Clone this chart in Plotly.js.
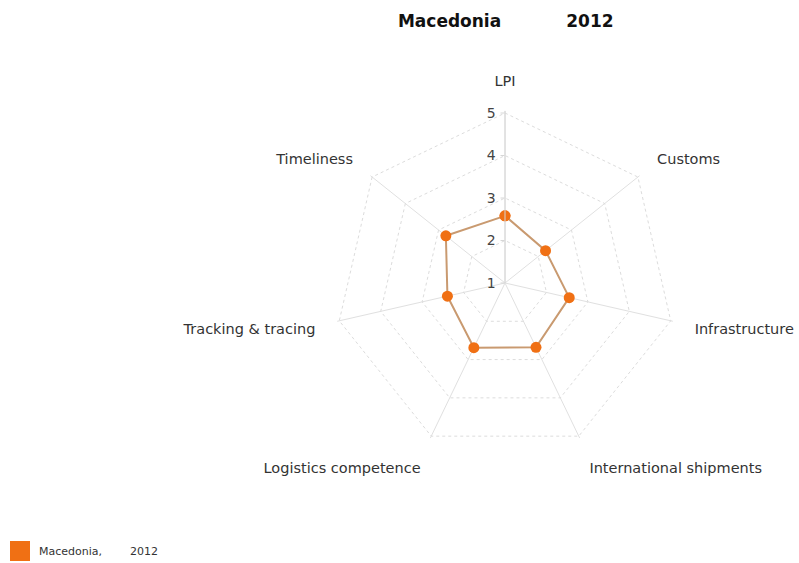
<!DOCTYPE html>
<html>
<head>
<meta charset="utf-8">
<script src="https://cdn.plot.ly/plotly-3.0.1.min.js"></script>
<style>html,body{margin:0;padding:0;background:#fff;}#chart{width:799px;height:563px;}</style>
</head>
<body>
<div id="chart"></div>
<script>
const categories = ["LPI", "Customs", "Infrastructure", "International shipments", "Logistics competence", "Tracking & tracing", "Timeliness"];
const values = [2.58, 2.22, 2.55, 2.68, 2.69, 2.39, 2.78];
const seriesName = "Macedonia,\u00A0\u00A0\u00A0\u00A0\u00A0\u00A0\u00A0\u00A02012";
const titleText = "Macedonia\u00A0\u00A0\u00A0\u00A0\u00A0\u00A0\u00A0\u00A0\u00A0\u00A0\u00A02012";
const radialTicks = [1, 2, 3, 4, 5];

const trace = {
  type: "scatterpolar",
  r: values.concat([values[0]]),
  theta: categories.concat([categories[0]]),
  mode: "lines+markers",
  line: {color: "#c99a70", width: 2},
  marker: {color: "#f07014", size: 11},
  showlegend: false,
  hoverinfo: "none"
};

const layout = {
  width: 799, height: 563,
  margin: {l: 0, r: 0, t: 0, b: 0},
  paper_bgcolor: "#fff",
  font: {family: "DejaVu Sans, Verdana, sans-serif", size: 12, color: "#333"},
  title: {text: "<b>" + titleText + "</b>", x: 0.633, xanchor: "center", y: 0.963, yanchor: "middle",
          font: {family: "DejaVu Sans, Verdana, sans-serif", size: 17, color: "#111"}},
  showlegend: false,
  polar: {
    domain: {x: [0.41665, 0.84746], y: [0.19165, 0.80303]},
    gridshape: "linear",
    bgcolor: "rgba(0,0,0,0)",
    radialaxis: {
      range: [1, 5.05], tickvals: radialTicks, angle: 90, tickangle: 90,
      side: "counterclockwise",
      showline: true, linecolor: "#d6d6d6", linewidth: 1,
      gridcolor: "#dcdcdc", griddash: "3px,3px", gridwidth: 1,
      ticks: "outside", ticklen: 4, tickcolor: "#d6d6d6",
      tickfont: {size: 14, color: "#444"}
    },
    angularaxis: {
      direction: "clockwise", rotation: 90,
      showline: false,
      gridcolor: "#e0e0e0", gridwidth: 1,
      ticks: "outside", ticklen: 19, tickcolor: "rgba(0,0,0,0)",
      tickfont: {size: 14.5, color: "#333"}
    }
  },
  shapes: [{type: "rect", xref: "paper", yref: "paper",
            x0: 10/799, x1: 30/799, y0: 1 - 561/563, y1: 1 - 541/563,
            fillcolor: "#f07014", line: {width: 0}}],
  annotations: [{xref: "paper", yref: "paper", x: 37/799, y: 1 - 551/563,
                 xanchor: "left", yanchor: "middle", showarrow: false,
                 text: seriesName, font: {size: 11, color: "#333"}}]
};

Plotly.newPlot("chart", [trace], layout, {displayModeBar: false, staticPlot: true});
</script>
</body>
</html>
